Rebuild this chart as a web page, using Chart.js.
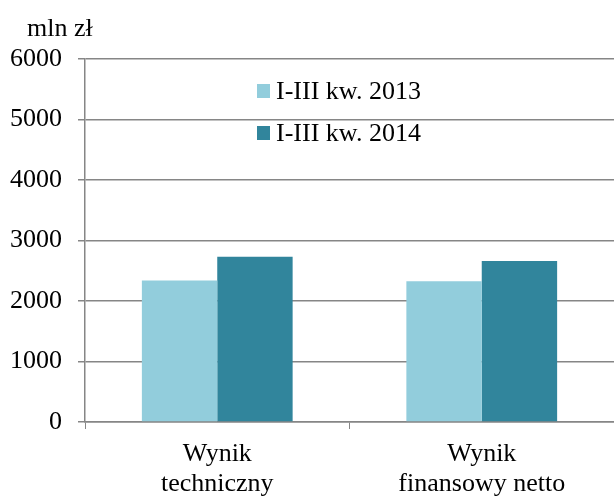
<!DOCTYPE html>
<html>
<head>
<meta charset="utf-8">
<script src="https://cdn.jsdelivr.net/npm/chart.js@4/dist/chart.umd.min.js"></script>
<style>
  body { margin: 0; background: #fff; }
  #wrap { width: 614px; height: 496px; position: relative; }
</style>
</head>
<body>
<div id="wrap"><canvas id="chart"></canvas></div>
<script>
// Data
const categories = [['Wynik', 'techniczny'], ['Wynik', 'finansowy netto']];
const seriesNames = ['I-III kw. 2013', 'I-III kw. 2014'];
const values2013 = [2340, 2326];
const values2014 = [2730, 2661];
const yTicks = [0, 1000, 2000, 3000, 4000, 5000, 6000];
const unitLabel = 'mln zł';

const colors = ['#92CDDC', '#31859C'];
const gridColor = '#868686';
const font = { family: '"Liberation Serif", "Times New Roman", serif', size: 26 };

// Legend inside the plot + unit label above the y axis
const overlay = {
  id: 'overlay',
  afterDraw(chart) {
    const ctx = chart.ctx;
    ctx.save();
    ctx.font = `${font.size}px ${font.family}`;
    ctx.fillStyle = '#000';
    ctx.textBaseline = 'middle';
    ctx.textAlign = 'left';
    ctx.fillText(unitLabel, 27, 29);
    seriesNames.forEach((name, i) => {
      const y = 91 + i * 42;
      ctx.fillStyle = colors[i];
      ctx.fillRect(257, y - 7, 13, 14);
      ctx.fillStyle = '#000';
      ctx.fillText(name, 276, y + 1);
    });
    ctx.restore();
  }
};

new Chart(document.getElementById('chart'), {
  type: 'bar',
  data: {
    labels: categories,
    datasets: [
      { label: seriesNames[0], data: values2013, backgroundColor: colors[0] },
      { label: seriesNames[1], data: values2014, backgroundColor: colors[1] }
    ]
  },
  options: {
    responsive: true,
    maintainAspectRatio: false,
    animation: false,
    datasets: { bar: { categoryPercentage: 0.57, barPercentage: 1.0 } },
    layout: { padding: { top: 59, right: 0, bottom: 0, left: 0 } },
    plugins: {
      legend: { display: false },
      tooltip: { enabled: false }
    },
    scales: {
      x: {
        grid: { drawOnChartArea: false, drawTicks: true, tickLength: 7, color: gridColor, offset: true },
        border: { color: gridColor, width: 1.5 },
        ticks: { color: '#000', font: { ...font, lineHeight: 1.15 }, padding: 10, maxRotation: 0, autoSkip: false },
        afterFit(scale) { scale.height = 74; }
      },
      y: {
        min: yTicks[0],
        max: yTicks[yTicks.length - 1],
        afterBuildTicks(scale) { scale.ticks = yTicks.map(v => ({ value: v })); },
        grid: { color: gridColor, lineWidth: 1.5, tickLength: 7 },
        border: { color: gridColor, width: 1.5 },
        ticks: { color: '#000', font, padding: 16, callback: v => String(v) },
        afterFit(scale) { scale.width = 85; }
      }
    }
  },
  plugins: [overlay]
});
</script>
</body>
</html>
